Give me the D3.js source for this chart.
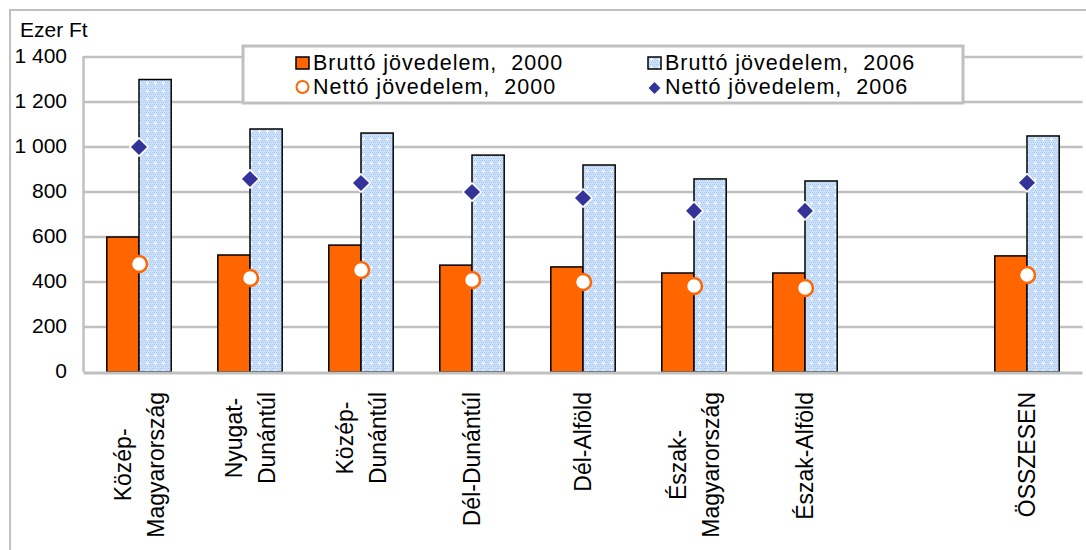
<!DOCTYPE html>
<html>
<head>
<meta charset="utf-8">
<script src="https://cdn.jsdelivr.net/npm/d3@7"></script>
<style>
  body { margin: 0; background: #fff; }
  svg { display: block; font-family: "Liberation Sans", Arial, sans-serif; }
</style>
</head>
<body>
<svg id="chart" width="1086" height="550"></svg>
<script>
// regions, "" is the empty slot before the total
const regions = ["Közép-|Magyarország", "Nyugat-|Dunántúl", "Közép-|Dunántúl", "Dél-Dunántúl",
                 "Dél-Alföld", "Észak-|Magyarország", "Észak-Alföld", "", "ÖSSZESEN"];
const brutto2000 = [600, 520, 564, 475, 467, 440, 440, null, 516];
const brutto2006 = [1300, 1080, 1062, 964, 920, 858, 849, null, 1049];
const netto2000 = [480, 418, 453, 409, 400, 382, 373, null, 431];
const netto2006 = [1000, 858, 840, 800, 773, 716, 716, null, 841];
const yTicks = [0, 200, 400, 600, 800, 1000, 1200, 1400];
const legendLabels = ["Bruttó jövedelem,  2000", "Bruttó jövedelem,  2006",
                      "Nettó jövedelem,  2000", "Nettó jövedelem,  2006"];

const orange = '#ff6600';
const navy = '#333399';
const grid = '#c0c0c0';

const svg = d3.select('#chart');

// blue dotted fill of the 2006 bars
const defs = svg.append('defs');
const pat = defs.append('pattern').attr('id', 'dots')
	.attr('width', 8).attr('height', 8).attr('patternUnits', 'userSpaceOnUse');
pat.append('rect').attr('width', 8).attr('height', 8).attr('fill', '#cfe2fb');
for (let i = 0; i < 8; i += 2) {
	for (let j = 0; j < 8; j += 2) {
		pat.append('rect').attr('x', i + (j % 4 ? 1 : 0)).attr('y', j).attr('width', 1).attr('height', 1).attr('fill', '#a8c9f3');
	}
}
pat.append('rect').attr('x', 3).attr('y', 2).attr('width', 1).attr('height', 3).attr('fill', '#fff');
pat.append('rect').attr('x', 2).attr('y', 3).attr('width', 3).attr('height', 1).attr('fill', '#fff');

// outer frame
svg.append('rect').attr('x', 10).attr('y', 10).attr('width', 1090).attr('height', 560)
	.attr('fill', 'none').attr('stroke', grid).attr('stroke-width', 2);

const plot = { left: 83.5, right: 1082.5, top: 57, bottom: 372 };

const x = d3.scaleBand().domain(d3.range(regions.length))
	.range([plot.left, plot.right]).paddingInner(0.42).paddingOuter(0.21);
const y = d3.scaleLinear().domain([0, 1400]).range([plot.bottom, plot.top]);
const half = x.bandwidth() / 2;

const fmt = d3.formatLocale({ decimal: ',', thousands: ' ', grouping: [3], currency: ['', ''] }).format(',d');

// gridlines
svg.append('g').selectAll('line').data(yTicks.slice(1)).join('line')
	.attr('x1', plot.left).attr('x2', plot.right)
	.attr('y1', d => y(d)).attr('y2', d => y(d))
	.attr('stroke', grid).attr('stroke-width', 2.5);

svg.append('line').attr('x1', plot.left).attr('x2', plot.left)
	.attr('y1', plot.top - 1).attr('y2', plot.bottom)
	.attr('stroke', grid).attr('stroke-width', 2.5);

// y tick labels
svg.append('g').selectAll('text').data(yTicks).join('text')
	.attr('x', 67).attr('y', d => y(d) - 1)
	.attr('dy', '0.35em')
	.attr('text-anchor', 'end')
	.attr('font-size', 21)
	.attr('fill', '#000')
	.text(d => fmt(d));

svg.append('text').attr('x', 20).attr('y', 37)
	.attr('font-size', 21).text('Ezer Ft');

// bars
const idx = d3.range(regions.length).filter(i => brutto2000[i] != null);
const bars = svg.append('g');
bars.selectAll('.b0').data(idx).join('rect')
	.attr('x', i => x(i)).attr('width', half)
	.attr('y', i => y(brutto2000[i])).attr('height', i => y(0) - y(brutto2000[i]))
	.attr('fill', orange).attr('stroke', '#000').attr('stroke-width', 1.5);
bars.selectAll('.b1').data(idx).join('rect')
	.attr('x', i => x(i) + half).attr('width', half)
	.attr('y', i => y(brutto2006[i])).attr('height', i => y(0) - y(brutto2006[i]))
	.attr('fill', 'url(#dots)').attr('stroke', '#000').attr('stroke-width', 1.5);

// x axis line
svg.append('line').attr('x1', plot.left).attr('x2', plot.right)
	.attr('y1', plot.bottom + 1).attr('y2', plot.bottom + 1)
	.attr('stroke', grid).attr('stroke-width', 3);

// markers
const diamond = d3.symbol().type(d3.symbolDiamond2).size(210);
svg.append('g').selectAll('path').data(idx).join('path')
	.attr('transform', i => `translate(${x(i) + half},${y(netto2006[i])})`)
	.attr('d', diamond)
	.attr('fill', navy).attr('stroke', '#fff').attr('stroke-width', 1.5);
svg.append('g').selectAll('circle').data(idx).join('circle')
	.attr('cx', i => x(i) + half).attr('cy', i => y(netto2000[i]))
	.attr('r', 8)
	.attr('fill', '#fff').attr('stroke', orange).attr('stroke-width', 2.5);

// rotated category labels, lines centred on the longest one
const labTop = 392;
regions.forEach((name, i) => {
	if (!name) return;
	const lines = name.split('|');
	const g = svg.append('g');
	const offs = lines.length > 1 ? [-16, 17] : [0];
	const texts = lines.map((ln, k) => g.append('text')
		.attr('x', 0).attr('y', offs[k])
		.attr('dy', '0.35em')
		.attr('text-anchor', 'middle')
		.attr('font-size', 23)
		.text(ln));
	const maxLen = d3.max(texts, t => t.node().getComputedTextLength());
	g.attr('transform', `translate(${x(i) + half},${labTop + maxLen / 2}) rotate(-90)`);
});

// legend
const leg = svg.append('g');
leg.append('rect').attr('x', 243).attr('y', 46).attr('width', 720).attr('height', 57)
	.attr('fill', '#fff').attr('stroke', grid).attr('stroke-width', 3);
const cols = [296, 648];
const rows = [62, 86];
leg.append('rect').attr('x', cols[0]).attr('y', rows[0] - 5).attr('width', 13).attr('height', 12)
	.attr('fill', orange).attr('stroke', '#000').attr('stroke-width', 1.5);
leg.append('rect').attr('x', cols[1]).attr('y', rows[0] - 5).attr('width', 13).attr('height', 12)
	.attr('fill', 'url(#dots)').attr('stroke', '#000').attr('stroke-width', 1.5);
leg.append('circle').attr('cx', cols[0] + 6.5).attr('cy', rows[1] + 1).attr('r', 6)
	.attr('fill', '#fff').attr('stroke', orange).attr('stroke-width', 2);
leg.append('path').attr('transform', `translate(${cols[1] + 6.5},${rows[1] + 2})`)
	.attr('d', d3.symbol().type(d3.symbolDiamond2).size(90)).attr('fill', navy);
legendLabels.forEach((t, k) => {
	leg.append('text')
		.attr('x', cols[k % 2] + 17).attr('y', rows[Math.floor(k / 2)])
		.attr('dy', '0.35em')
		.attr('font-size', 21.5)
		.attr('letter-spacing', 1)
		.style('white-space', 'pre')
		.text(t);
});
</script>
</body>
</html>
